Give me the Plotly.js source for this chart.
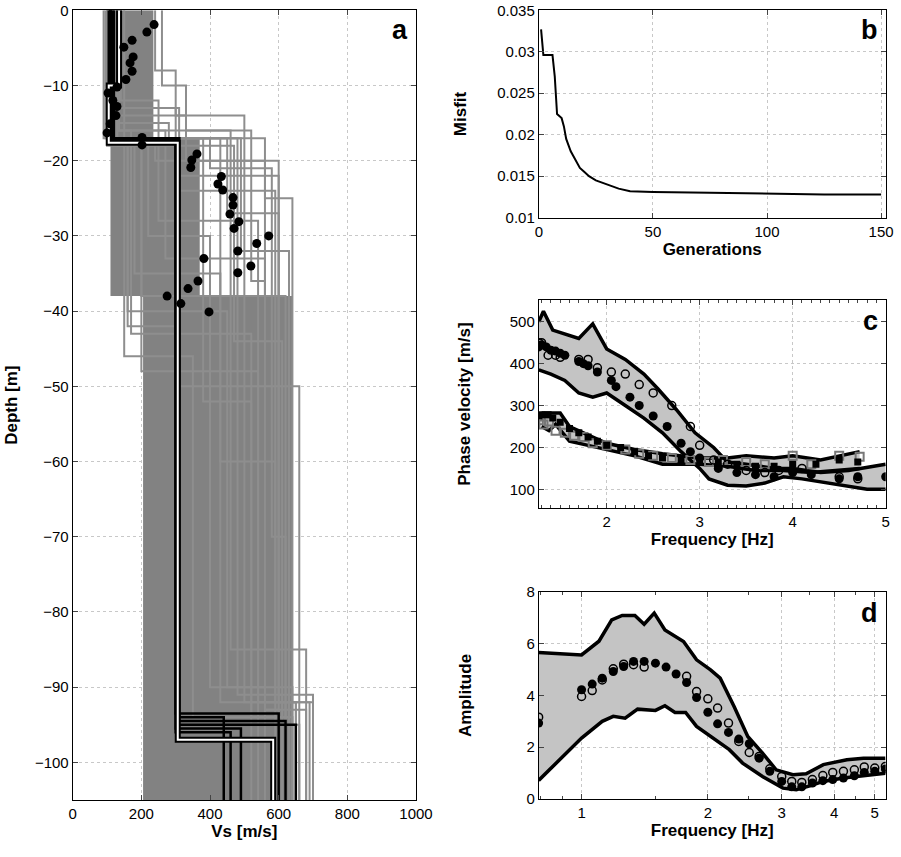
<!DOCTYPE html>
<html>
<head>
<meta charset="utf-8">
<script src="https://cdn.plot.ly/plotly-3.0.1.min.js"></script>
<style>body{margin:0;background:#fff}#plot{width:901px;height:857px}</style>
</head>
<body>
<div id="plot"></div>
<script>
// ---- panel a: Vs profiles (layer velocities and bottom depths) ----
const coreBottoms = [-17, -38, -105];
const coreLo = [100, 110, 205];
const coreHi = [235, 370, 640];

const grayProfiles = [
  [[110, 300, 600, 650], [-13, -22, -92, -105]],
  [[120, 330, 560, 680], [-14, -20, -93, -105]],
  [[100, 160, 450, 640], [-17, -40, -90, -105]],
  [[140, 250, 540, 700], [-12, -28, -92, -105]],
  [[95, 200, 620, 660], [-17, -38, -95, -105]],
  [[130, 280, 480, 610], [-15, -17, -91, -105]],
  [[105, 170, 520, 630], [-16, -43, -94, -105]],
  [[115, 310, 590, 690], [-13, -24, -92, -105]],
  [[125, 220, 400, 560], [-18, -30, -90, -105]],
  [[240, 300, 500, 650], [-8, -14, -92, -105]],
  [[100, 180, 430, 620], [-18, -35, -92, -105]],
  [[135, 270, 560, 600], [-16, -33, -93, -105]],
  [[110, 150, 350, 640], [-17, -46, -94, -105]],
  [[260, 330, 460, 680], [-10, -16, -85, -105]],
  [[90, 240, 600, 700], [-17, -20, -91, -105]],
  [[120, 560, 640], [-17, -25, -105]],
  [[110, 430, 590], [-17, -60, -105]],
  [[100, 380, 520], [-17, -52, -105]],
  [[130, 470, 610], [-18, -44, -105]],
  [[150, 200, 540], [-17, -48, -105]],
  [[120, 400, 580, 620], [-17, -21, -70, -105]],
  [[110, 520, 560], [-16, -36, -105]],
  [[115, 450, 600], [-17, -27, -105]],
  [[105, 490, 630], [-17, -32, -105]],
  [[125, 160, 300, 660], [-17, -42, -50, -105]]
];
const blackProfiles = [
  [[110, 310, 440], [-17, -94, -105]],
  [[105, 300, 600], [-17, -93.5, -105]],
  [[115, 305, 650], [-17, -95, -105]],
  [[120, 300, 460], [-17, -96, -105]],
  [[110, 300, 490], [-17, -95.5, -105]],
  [[110, 310, 620], [-17, -94.5, -105]]
];
const bestVs = [135, 105, 306, 584];
const bestBottoms = [-10, -17.6, -97, -105];

const obsVs = [237, 216, 173, 149, 176, 167, 173, 155, 129, 103, 117, 129, 126, 109, 100, 202, 202, 362, 347, 344, 433, 423, 437, 467, 467, 458, 484, 470, 571, 536, 481, 382, 519, 481, 365, 336, 275, 315, 397];
const obsDepth = [-1.9, -2.9, -4, -4.9, -6.2, -7, -8.1, -9.2, -10.2, -11, -12, -12.8, -14, -15.1, -16.3, -16.9, -17.9, -19.1, -19.9, -20.9, -22.1, -23.1, -23.9, -24.9, -25.9, -27.1, -28.1, -29, -30, -31, -32, -33, -34, -34.9, -36, -37, -38, -39, -40.1];

// ---- panel b: misfit ----
const genX = [1, 2, 6, 7, 8, 10, 11, 12, 14, 16, 18, 20, 22, 25, 30, 35, 40, 50, 75, 100, 125, 150];
const misfit = [0.0327, 0.0296, 0.0296, 0.027, 0.0225, 0.022, 0.021, 0.0195, 0.018, 0.017, 0.016, 0.0155, 0.015, 0.0145, 0.014, 0.0135, 0.0132, 0.0131, 0.013, 0.0129, 0.0128, 0.0128];

// ---- panel c: dispersion ----
const fuUpF = [1.27, 1.32, 1.42, 1.55, 1.7, 1.85, 2.0, 2.2, 2.4, 2.55, 2.75, 2.95, 3.15, 3.3, 3.5, 3.8, 4.0, 4.3, 4.6, 5.0];
const fuUpV = [500, 525, 480, 470, 460, 495, 435, 410, 375, 340, 290, 235, 200, 165, 160, 150, 150, 140, 145, 160];
const fuLoF = [1.27, 1.4, 1.55, 1.7, 1.85, 2.0, 2.2, 2.4, 2.6, 2.8, 3.0, 3.1, 3.3, 3.5, 3.7, 3.9, 4.1, 4.5, 4.8, 5.0];
const fuLoV = [385, 375, 360, 330, 320, 330, 300, 270, 235, 190, 150, 125, 110, 108, 115, 130, 125, 110, 100, 100];
const hiUpF = [1.3, 1.5, 1.6, 1.8, 2.0, 2.3, 2.6, 3.0, 3.3, 3.5, 3.8, 4.0, 4.3, 4.72];
const hiUpV = [282, 282, 250, 230, 210, 195, 185, 175, 175, 180, 175, 180, 170, 190];
const hiLoF = [1.3, 1.38, 1.45, 1.6, 1.8, 2.0, 2.3, 2.6, 3.0, 3.3, 3.6, 3.9, 4.2, 4.72];
const hiLoV = [250, 240, 255, 215, 205, 195, 180, 160, 160, 155, 145, 145, 140, 150];

const fObsF = [1.27, 1.3, 1.35, 1.4, 1.45, 1.5, 1.55, 1.7, 1.75, 1.8, 1.9, 2.05, 2.1, 2.25, 2.35, 2.5, 2.65, 2.8, 2.9, 3.0, 3.2, 3.4, 3.6, 3.8, 4.0, 4.2, 4.5, 4.7, 5.0];
const fObsV = [440, 445, 440, 432, 430, 425, 420, 405, 400, 395, 380, 360, 345, 320, 300, 275, 250, 210, 190, 175, 150, 140, 135, 130, 140, 135, 125, 130, 130];
const fFitF = [1.27, 1.3, 1.37, 1.45, 1.5, 1.7, 1.8, 1.9, 2.05, 2.2, 2.35, 2.5, 2.7, 2.9, 3.0, 3.15, 3.3, 3.5, 3.7, 3.85, 4.1, 4.5, 4.7];
const fFitV = [450, 450, 420, 420, 415, 410, 410, 390, 380, 375, 350, 330, 300, 250, 205, 170, 160, 145, 140, 145, 150, 130, 125];
const hObsF = [1.27, 1.3, 1.37, 1.42, 1.5, 1.6, 1.7, 1.8, 1.9, 2.0, 2.15, 2.3, 2.45, 2.6, 2.8, 3.0, 3.2, 3.4, 3.6, 3.8, 4.0, 4.25, 4.5, 4.7];
const hObsV = [275, 278, 278, 270, 260, 245, 235, 225, 215, 205, 200, 190, 180, 175, 170, 165, 165, 160, 155, 155, 160, 160, 170, 165];
const hFitF = [1.27, 1.32, 1.38, 1.45, 1.55, 1.65, 1.75, 1.85, 2.0, 2.2, 2.35, 2.5, 2.7, 2.9, 3.1, 3.25, 3.5, 3.7, 4.0, 4.2, 4.5, 4.72];
const hFitV = [265, 255, 262, 240, 235, 228, 225, 210, 205, 195, 185, 180, 175, 170, 165, 170, 165, 160, 180, 160, 180, 178];

// ---- panel d: H/V amplitude ----
const amUpF = [0.79, 1.0, 1.1, 1.18, 1.25, 1.34, 1.41, 1.49, 1.58, 1.75, 1.88, 2.03, 2.14, 2.31, 2.49, 2.7, 2.91, 3.19, 3.43, 3.77, 4.29, 4.7, 5.3];
const amUpA = [5.66, 5.57, 6.1, 6.93, 7.1, 7.1, 6.76, 7.19, 6.54, 6.09, 5.38, 4.99, 4.67, 3.57, 2.41, 1.77, 1.12, 0.93, 0.97, 1.32, 1.51, 1.57, 1.57];
const amLoF = [0.79, 1.0, 1.12, 1.19, 1.27, 1.36, 1.5, 1.58, 1.67, 1.77, 1.88, 2.03, 2.25, 2.42, 2.7, 3.02, 3.25, 3.5, 3.77, 4.21, 4.7, 5.3];
const amLoA = [0.71, 2.35, 3.0, 3.19, 3.12, 3.47, 3.42, 3.6, 3.34, 3.34, 2.8, 2.41, 1.9, 1.38, 0.86, 0.41, 0.35, 0.5, 0.67, 0.8, 0.89, 0.99];
const aObsF = [0.79, 1, 1.06, 1.12, 1.19, 1.26, 1.33, 1.41, 1.5, 1.59, 1.68, 1.78, 1.88, 2.0, 2.11, 2.24, 2.37, 2.51, 2.65, 2.81, 3.0, 3.17, 3.35, 3.55, 3.76, 3.97, 4.21, 4.47, 4.72, 5.0, 5.3];
const aObsA = [2.93, 4.22, 4.44, 4.67, 4.93, 5.12, 5.32, 5.32, 5.25, 5.1, 4.83, 4.5, 3.92, 3.35, 2.9, 2.57, 2.31, 2.13, 1.57, 1.06, 0.67, 0.46, 0.46, 0.61, 0.7, 0.74, 0.8, 0.89, 1.02, 1.06, 1.15];
const aFitF = [0.79, 1, 1.06, 1.12, 1.19, 1.26, 1.33, 1.41, 1.78, 1.88, 2.0, 2.11, 2.24, 2.37, 2.51, 2.65, 2.81, 3.0, 3.17, 3.35, 3.55, 3.76, 3.97, 4.21, 4.47, 4.72, 5.0, 5.3];
const aFitA = [3.16, 3.96, 4.19, 4.6, 5.03, 5.21, 5.19, 5.1, 4.74, 4.15, 3.87, 3.51, 2.93, 2.22, 1.79, 1.64, 1.16, 0.86, 0.67, 0.63, 0.74, 0.9, 1.02, 1.06, 1.12, 1.23, 1.19, 1.25];

// helpers
function stepLine(vs, bottoms) {
  const x = [], y = [];
  let top = 0;
  vs.forEach((v, i) => { x.push(v, v); y.push(top, bottoms[i]); top = bottoms[i]; });
  return { x, y };
}
function band(uf, uv, lf, lv) {
  return { x: uf.concat(lf.slice().reverse()), y: uv.concat(lv.slice().reverse()) };
}

const traces = [];
// panel a
(function () {
  const x = [], y = [];
  let top = 0;
  coreLo.forEach((v, i) => { x.push(v, v); y.push(top, coreBottoms[i]); top = coreBottoms[i]; });
  for (let i = coreHi.length - 1; i >= 0; i--) {
    const t = i === 0 ? 0 : coreBottoms[i - 1];
    x.push(coreHi[i], coreHi[i]); y.push(coreBottoms[i], t);
  }
  traces.push({ x, y, xaxis: 'x', yaxis: 'y', mode: 'lines', fill: 'toself', fillcolor: '#828282', line: { width: 0 }, hoverinfo: 'skip' });
})();
for (const [vs, b] of grayProfiles) {
  const s = stepLine(vs, b);
  traces.push({ ...s, xaxis: 'x', yaxis: 'y', mode: 'lines', line: { color: '#8e8e8e', width: 2 }, hoverinfo: 'skip' });
}
for (const [vs, b] of blackProfiles) {
  const s = stepLine(vs, b);
  traces.push({ ...s, xaxis: 'x', yaxis: 'y', mode: 'lines', line: { color: '#000', width: 2.5 }, hoverinfo: 'skip' });
}
const best = stepLine(bestVs, bestBottoms);
traces.push({ ...best, xaxis: 'x', yaxis: 'y', mode: 'lines', line: { color: '#000', width: 6 } });
traces.push({ ...best, xaxis: 'x', yaxis: 'y', mode: 'lines', line: { color: '#fff', width: 2 } });
traces.push({ x: obsVs, y: obsDepth, xaxis: 'x', yaxis: 'y', mode: 'markers', marker: { color: '#000', size: 9 } });

// panel b
traces.push({ x: genX, y: misfit, xaxis: 'x2', yaxis: 'y2', mode: 'lines', line: { color: '#000', width: 2 } });

// panel c
const fb = band(fuUpF, fuUpV, fuLoF, fuLoV);
const hb = band(hiUpF, hiUpV, hiLoF, hiLoV);
traces.push({ ...fb, xaxis: 'x3', yaxis: 'y3', mode: 'lines', fill: 'toself', fillcolor: '#c4c4c4', line: { width: 0 } });
traces.push({ ...hb, xaxis: 'x3', yaxis: 'y3', mode: 'lines', fill: 'toself', fillcolor: '#c4c4c4', line: { width: 0 } });
[[fuUpF, fuUpV], [fuLoF, fuLoV], [hiUpF, hiUpV], [hiLoF, hiLoV]].forEach(([x, y]) =>
  traces.push({ x, y, xaxis: 'x3', yaxis: 'y3', mode: 'lines', line: { color: '#000', width: 3.5 } }));
traces.push({ x: hFitF, y: hFitV, xaxis: 'x3', yaxis: 'y3', mode: 'markers', marker: { symbol: 'square-open', color: '#777', size: 8, line: { width: 2, color: '#777' } } });
traces.push({ x: hObsF, y: hObsV, xaxis: 'x3', yaxis: 'y3', mode: 'markers', marker: { symbol: 'square', color: '#000', size: 7 } });
traces.push({ x: fObsF, y: fObsV, xaxis: 'x3', yaxis: 'y3', mode: 'markers', marker: { color: '#000', size: 9 } });
traces.push({ x: fFitF, y: fFitV, xaxis: 'x3', yaxis: 'y3', mode: 'markers', marker: { symbol: 'circle-open', color: '#000', size: 8, line: { width: 1.5, color: '#000' } } });

// panel d
const ab = band(amUpF, amUpA, amLoF, amLoA);
traces.push({ ...ab, xaxis: 'x4', yaxis: 'y4', mode: 'lines', fill: 'toself', fillcolor: '#c4c4c4', line: { width: 0 } });
traces.push({ x: amUpF, y: amUpA, xaxis: 'x4', yaxis: 'y4', mode: 'lines', line: { color: '#000', width: 3.5 } });
traces.push({ x: amLoF, y: amLoA, xaxis: 'x4', yaxis: 'y4', mode: 'lines', line: { color: '#000', width: 3.5 } });
traces.push({ x: aObsF, y: aObsA, xaxis: 'x4', yaxis: 'y4', mode: 'markers', marker: { color: '#000', size: 9 } });
traces.push({ x: aFitF, y: aFitA, xaxis: 'x4', yaxis: 'y4', mode: 'markers', marker: { symbol: 'circle-open', color: '#000', size: 8, line: { width: 1.5, color: '#000' } } });

const ax = (o) => Object.assign({
  showline: true, mirror: 'ticks', linecolor: '#000', linewidth: 1, ticks: 'inside', ticklen: 5,
  showgrid: true, gridcolor: '#c8c8c8', griddash: 'dot', gridwidth: 1, zeroline: false,
  tickfont: { size: 15, color: '#000' }
}, o);
const ttl = (t, sd) => ({ text: '<b>' + t + '</b>', standoff: sd, font: { size: 17, color: '#000' } });
const xR = [0.598, 0.983];

const layout = {
  width: 901, height: 857, showlegend: false,
  margin: { l: 0, r: 0, t: 0, b: 0 },
  paper_bgcolor: '#fff', plot_bgcolor: '#fff',
  font: { family: 'Liberation Sans, Arial, sans-serif', color: '#000' },
  xaxis: ax({ domain: [0.0807, 0.4617], range: [0, 1000], dtick: 200, anchor: 'y', title: ttl('Vs [m/s]', 4) }),
  yaxis: ax({ domain: [0.0665, 0.988], range: [-105, 0], dtick: 10, anchor: 'x', title: ttl('Depth [m]', 12) }),
  xaxis2: ax({ domain: xR, range: [0, 152], tickvals: [0, 50, 100, 150], anchor: 'y2', title: ttl('Generations', 2) }),
  yaxis2: ax({ domain: [0.746, 0.988], range: [0.01, 0.035], dtick: 0.005, tickformat: '~g', anchor: 'x2', title: ttl('Misfit', 26) }),
  xaxis3: ax({ domain: xR, range: [1.27, 5], tickvals: [2, 3, 4, 5], anchor: 'y3', title: ttl('Frequency [Hz]', 2), minor: { ticks: 'inside', ticklen: 3, dtick: 0.1, showgrid: false } }),
  yaxis3: ax({ domain: [0.407, 0.65], range: [55, 552], tickvals: [100, 200, 300, 400, 500], anchor: 'x3', title: ttl('Phase velocity [m/s]', 34) }),
  xaxis4: ax({ domain: xR, type: 'log', range: [-0.102, 0.725], tickvals: [1, 2, 3, 4, 5], anchor: 'y4', title: ttl('Frequency [Hz]', 2),
    minor: { ticks: 'inside', ticklen: 3, tickvals: [0.8, 0.9, 1.5, 2.5, 3.5, 4.5], showgrid: false } }),
  yaxis4: ax({ domain: [0.068, 0.309], range: [0, 8], dtick: 2, anchor: 'x4', title: ttl('Amplitude', 50) }),
  annotations: [
    ['a', 0.455, 0.985], ['b', 0.977, 0.985], ['c', 0.977, 0.645], ['d', 0.977, 0.305]
  ].map(([t, x, y]) => ({ text: '<b>' + t + '</b>', x, y, xref: 'paper', yref: 'paper', xanchor: 'right', yanchor: 'top', showarrow: false, font: { size: 27, color: '#000' } }))
};

Plotly.newPlot('plot', traces, layout, { displayModeBar: false, staticPlot: true });
</script>
</body>
</html>
